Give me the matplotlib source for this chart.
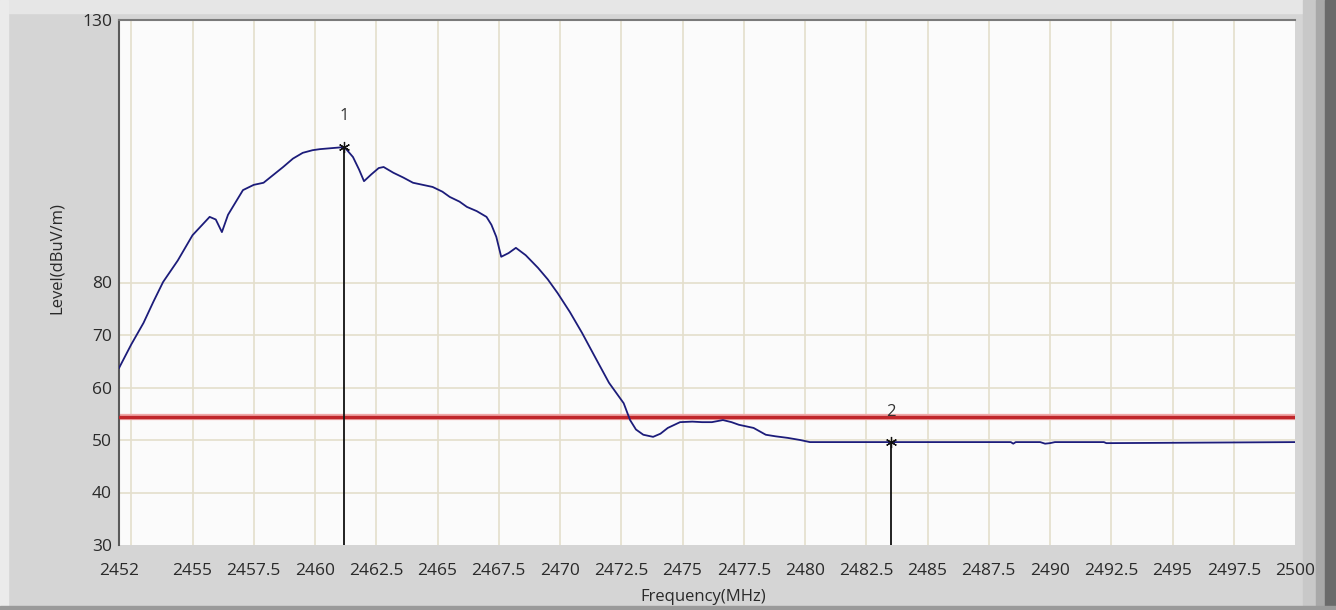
import numpy as np
import matplotlib
matplotlib.use("Agg")
import matplotlib.pyplot as plt
from matplotlib.patches import Rectangle

# trace (MHz, dBuV/m)
freq = [2452.0, 2452.5, 2453.0, 2453.4, 2453.8, 2454.4, 2455.0, 2455.4, 2455.7,
        2455.95, 2456.2, 2456.45, 2456.8, 2457.06, 2457.5, 2457.9, 2458.3,
        2458.7, 2459.1, 2459.5, 2459.9, 2460.2, 2460.7, 2461.2, 2461.55,
        2461.8, 2462.0, 2462.3, 2462.6, 2462.8, 2463.2, 2463.6, 2464.0,
        2464.4, 2464.8, 2465.2, 2465.5, 2465.9, 2466.2, 2466.6, 2467.0,
        2467.2, 2467.4, 2467.6, 2467.9, 2468.2, 2468.6, 2469.1, 2469.5,
        2469.9, 2470.4, 2470.9, 2471.5, 2472.0, 2472.6, 2472.86, 2473.1,
        2473.4, 2473.8, 2474.1, 2474.4, 2474.9, 2475.4, 2475.8, 2476.2,
        2476.65, 2477.0, 2477.3, 2477.9, 2478.4, 2478.8, 2479.3, 2479.8,
        2480.2, 2483.5, 2488.4, 2488.5, 2488.6, 2489.6, 2489.8, 2490.0,
        2490.2, 2492.2, 2492.3, 2500.0]
level = [63.7, 68.2, 72.3, 76.3, 80.1, 84.2, 89.0, 91.0, 92.5,
         92.0, 89.6, 92.9, 95.6, 97.6, 98.6, 99.0, 100.5,
         102.0, 103.6, 104.7, 105.2, 105.4, 105.6, 105.8, 103.9,
         101.5, 99.3, 100.6, 101.8, 102.0, 100.9, 100.0, 99.0,
         98.6, 98.2, 97.3, 96.3, 95.4, 94.4, 93.6, 92.5,
         91.0, 88.7, 84.9, 85.6, 86.6, 85.2, 82.8, 80.6,
         78.0, 74.4, 70.4, 65.2, 60.9, 57.0, 53.8, 52.0,
         51.0, 50.6, 51.2, 52.3, 53.4, 53.5, 53.4, 53.4,
         53.8, 53.4, 52.9, 52.3, 51.0, 50.7, 50.4, 50.0,
         49.6, 49.6, 49.6, 49.3, 49.6, 49.6, 49.3, 49.4,
         49.6, 49.6, 49.4, 49.6]

limit = 54.4
marker_freq = [2461.2, 2483.5]
marker_level = [105.8, 49.6]
marker_names = ["1", "2"]

xtick_vals = [2452, 2455, 2457.5, 2460, 2462.5, 2465, 2467.5, 2470, 2472.5,
              2475, 2477.5, 2480, 2482.5, 2485, 2487.5, 2490, 2492.5, 2495,
              2497.5, 2500]
xtick_labels = ["2452", "2455", "2457.5", "2460", "2462.5", "2465", "2467.5",
                "2470", "2472.5", "2475", "2477.5", "2480", "2482.5", "2485",
                "2487.5", "2490", "2492.5", "2495", "2497.5", "2500"]
ytick_vals = [30, 40, 50, 60, 70, 80, 130]
grid_x = [2452.5, 2455, 2457.5, 2460, 2462.5, 2465, 2467.5, 2470, 2472.5,
          2475, 2477.5, 2480, 2482.5, 2485, 2487.5, 2490, 2492.5, 2495, 2497.5]
grid_y = [40, 50, 60, 70, 80]

plt.rcParams['font.family'] = ['Open Sans', 'DejaVu Sans']

fig = plt.figure(figsize=(13.36, 6.10), dpi=100, facecolor='#d5d5d5')
# window frame bits (kept behind the axes)
frame = [((0, 0.978), 1, 0.022, '#e6e6e6'),
         ((0, 0), 0.006, 1, '#ebebeb'),
         ((0.975, 0), 0.025, 1, '#c8c8c8'),
         ((0.985, 0), 0.015, 1, '#a8a8a8'),
         ((0.992, 0), 0.008, 1, '#6a6a6a'),
         ((0, 0), 1, 0.007, '#9a9a9a')]
for xy, w, h, c in frame:
    fig.patches.append(Rectangle(xy, w, h, transform=fig.transFigure,
                                 color=c, zorder=-5))

ax = fig.add_axes([119 / 1336, 1 - 545 / 610, 1176 / 1336, 525 / 610])
ax.set_zorder(3)
ax.set_facecolor('#fbfbfb')

for gx in grid_x:
    ax.axvline(gx, color='#e4dfcc', lw=1.2, zorder=1)
for gy in grid_y:
    ax.axhline(gy, color='#e4dfcc', lw=1.2, zorder=1)

ax.axhline(limit, color='#f0a8a8', lw=4.5, zorder=2)
ax.axhline(limit, color='#c0262b', lw=2.4, zorder=3)

ax.plot(freq, level, color='#1c1c7a', lw=1.3, zorder=4)

for mf, ml, mn in zip(marker_freq, marker_level, marker_names):
    ax.vlines(mf, 30, ml, color='#111111', lw=1.3, zorder=5)
    ax.plot(mf, ml, marker=(6, 2, 0), color='#111111', ms=8, mew=0.9, zorder=6)
    ax.annotate(mn, (mf, ml), xytext=(0, 22), textcoords='offset points',
                ha='center', va='center', fontsize=12, color='#333333')

ax.set_xlim(2452, 2500)
ax.set_ylim(30, 130)
ax.set_xticks(xtick_vals)
ax.set_xticklabels(xtick_labels)
ax.set_yticks(ytick_vals)
ax.tick_params(axis='x', length=0, pad=13, labelsize=12.5, colors='#2a2a2a')
ax.tick_params(axis='y', length=0, pad=5, labelsize=12.5, colors='#2a2a2a')

for s in ['right', 'bottom']:
    ax.spines[s].set_visible(False)
ax.spines['top'].set_color('#7a7a7a')
ax.spines['top'].set_linewidth(1.5)
ax.spines['left'].set_color('#5a5a5a')
ax.spines['left'].set_linewidth(1.5)

ax.set_xlabel('Frequency(MHz)', fontsize=12, color='#2a2a2a')
ax.xaxis.set_label_coords(0.497, -0.084)
ax.set_ylabel('Level(dBuV/m)', fontsize=12, color='#2a2a2a')
ax.yaxis.set_label_coords(-0.046, 0.547)

plt.savefig("out.png", dpi=100, facecolor=fig.get_facecolor())
